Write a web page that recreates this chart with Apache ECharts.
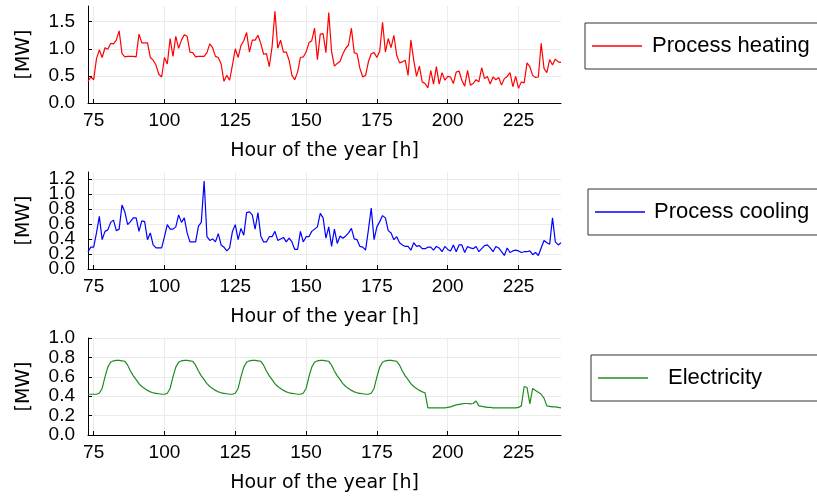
<!DOCTYPE html>
<html>
<head>
<meta charset="utf-8">
<script src="https://cdn.jsdelivr.net/npm/echarts@6/dist/echarts.min.js"></script>
<style>
html, body { margin: 0; padding: 0; background: #fff; }
#chart { width: 817px; height: 498px; }
</style>
</head>
<body>
<div id="chart"></div>
<script>
// hourly values, hour 73 .. 240
const firstHour = 73
const lastHour = 240

const heating = [
    0.40, 0.48, 0.43, 0.82, 0.98, 0.84, 1.02, 0.99, 1.10, 1.09,
    1.16, 1.33, 0.91, 0.85, 0.86, 0.86, 0.86, 0.85, 1.27, 1.11,
    1.11, 1.11, 0.84, 0.79, 0.70, 0.53, 0.48, 0.84, 0.72, 1.19,
    0.86, 1.23, 1.01, 1.16, 1.26, 1.23, 0.94, 0.93, 0.85, 0.86,
    0.86, 0.86, 0.93, 1.09, 1.02, 0.86, 0.84, 0.72, 0.40, 0.51,
    0.42, 0.70, 1.00, 0.84, 1.06, 1.15, 1.30, 0.94, 1.16, 1.16,
    1.25, 1.10, 0.90, 0.91, 0.67, 1.04, 1.69, 1.01, 1.16, 0.94,
    0.94, 0.79, 0.51, 0.43, 0.57, 0.84, 0.85, 0.94, 1.11, 1.15,
    1.38, 0.80, 1.27, 1.28, 0.93, 1.67, 0.95, 0.68, 0.73, 0.77,
    0.91, 1.01, 1.07, 1.38, 0.93, 0.91, 0.64, 0.48, 0.51, 0.76,
    0.91, 0.93, 0.84, 0.96, 1.49, 0.94, 1.19, 1.02, 1.25, 0.88,
    0.74, 0.76, 0.79, 0.51, 1.16, 0.79, 0.49, 0.68, 0.39, 0.36,
    0.28, 0.60, 0.35, 0.67, 0.35, 0.56, 0.42, 0.49, 0.48, 0.36,
    0.57, 0.59, 0.42, 0.31, 0.60, 0.33, 0.36, 0.43, 0.39, 0.65,
    0.45, 0.49, 0.35, 0.48, 0.43, 0.47, 0.33, 0.45, 0.49, 0.56,
    0.30, 0.49, 0.27, 0.39, 0.37, 0.74, 0.67, 0.51, 0.47, 0.48,
    1.10, 0.64, 0.56, 0.80, 0.70, 0.81, 0.76, 0.75
]

const cooling = [
    0.23, 0.29, 0.29, 0.48, 0.70, 0.39, 0.50, 0.52, 0.62, 0.65,
    0.51, 0.53, 0.85, 0.76, 0.59, 0.63, 0.68, 0.68, 0.50, 0.64,
    0.63, 0.39, 0.48, 0.32, 0.28, 0.28, 0.28, 0.43, 0.59, 0.53,
    0.53, 0.56, 0.72, 0.62, 0.68, 0.48, 0.36, 0.36, 0.36, 0.57,
    0.62, 1.17, 0.43, 0.38, 0.40, 0.36, 0.47, 0.32, 0.29, 0.24,
    0.28, 0.50, 0.59, 0.39, 0.54, 0.45, 0.75, 0.76, 0.72, 0.53,
    0.75, 0.44, 0.36, 0.36, 0.43, 0.43, 0.50, 0.38, 0.40, 0.42,
    0.36, 0.41, 0.36, 0.26, 0.26, 0.50, 0.36, 0.43, 0.43, 0.50,
    0.53, 0.56, 0.74, 0.68, 0.41, 0.56, 0.30, 0.53, 0.34, 0.44,
    0.41, 0.44, 0.48, 0.54, 0.40, 0.39, 0.30, 0.29, 0.25, 0.52,
    0.81, 0.39, 0.56, 0.63, 0.71, 0.68, 0.51, 0.48, 0.39, 0.43,
    0.35, 0.32, 0.30, 0.30, 0.25, 0.35, 0.30, 0.31, 0.27, 0.27,
    0.29, 0.29, 0.25, 0.30, 0.28, 0.23, 0.30, 0.26, 0.24, 0.32,
    0.23, 0.32, 0.32, 0.22, 0.30, 0.28, 0.27, 0.30, 0.23, 0.27,
    0.31, 0.32, 0.28, 0.23, 0.30, 0.28, 0.23, 0.18, 0.28, 0.22,
    0.24, 0.25, 0.24, 0.22, 0.23, 0.23, 0.24, 0.19, 0.22, 0.18,
    0.28, 0.38, 0.35, 0.33, 0.68, 0.36, 0.32, 0.35
]

const electricity = [
    0.42, 0.42, 0.42, 0.42, 0.43, 0.48, 0.60, 0.70, 0.75, 0.765,
    0.77, 0.77, 0.765, 0.76, 0.72, 0.66, 0.61, 0.57, 0.53, 0.50,
    0.48, 0.46, 0.445, 0.435, 0.43, 0.425, 0.42, 0.42, 0.43, 0.48,
    0.60, 0.70, 0.75, 0.765, 0.77, 0.77, 0.765, 0.76, 0.72, 0.66,
    0.61, 0.57, 0.53, 0.50, 0.48, 0.46, 0.445, 0.435, 0.43, 0.425,
    0.42, 0.42, 0.43, 0.48, 0.60, 0.70, 0.75, 0.765, 0.77, 0.77,
    0.765, 0.76, 0.72, 0.66, 0.61, 0.57, 0.53, 0.50, 0.48, 0.46,
    0.445, 0.435, 0.43, 0.425, 0.42, 0.42, 0.43, 0.48, 0.60, 0.70,
    0.75, 0.765, 0.77, 0.77, 0.765, 0.76, 0.72, 0.66, 0.61, 0.57,
    0.53, 0.50, 0.48, 0.46, 0.445, 0.435, 0.43, 0.425, 0.42, 0.42,
    0.43, 0.48, 0.60, 0.70, 0.75, 0.765, 0.77, 0.77, 0.765, 0.76,
    0.72, 0.66, 0.61, 0.57, 0.53, 0.50, 0.48, 0.46, 0.445, 0.435,
    0.28, 0.28, 0.28, 0.28, 0.28, 0.28, 0.28, 0.285, 0.29, 0.30,
    0.31, 0.315, 0.32, 0.325, 0.325, 0.32, 0.325, 0.35, 0.30, 0.295,
    0.29, 0.285, 0.285, 0.28, 0.28, 0.28, 0.28, 0.28, 0.28, 0.28,
    0.28, 0.28, 0.285, 0.30, 0.50, 0.49, 0.32, 0.48, 0.46, 0.44,
    0.42, 0.38, 0.30, 0.295, 0.29, 0.29, 0.285, 0.28
]

const xTicks = [75, 100, 125, 150, 175, 200, 225]
const heatTicks = [0, 0.5, 1.0, 1.5]
const coolTicks = [0, 0.2, 0.4, 0.6, 0.8, 1.0, 1.2]
const elecTicks = [0, 0.2, 0.4, 0.6, 0.8, 1.0]
// cooling labels are crowded: drawn on two overlaid axes so none is dropped
const coolLabelsA = [0, 0.4, 0.8, 1.2]
const coolLabelsB = [0.2, 0.6, 1.0]

const hours = []
for (let h = firstHour; h <= lastHour; h++) hours.push(h)

const tickFont = { fontFamily: 'Liberation Sans', fontSize: 19, color: '#000' }
const nameFont = { fontFamily: 'DejaVu Sans', fontSize: 19, color: '#000' }
const gridColor = '#ebebeb'

function xAxisFor(i) {
    return {
        type: 'value',
        gridIndex: i,
        min: firstHour,
        max: lastHour,
        name: 'Hour of the year [h]',
        nameLocation: 'middle',
        nameGap: 39,
        nameTextStyle: nameFont,
        axisLine: { lineStyle: { color: '#000', width: 1 } },
        axisTick: { inside: true, length: 4, customValues: xTicks, lineStyle: { color: '#000' } },
        axisLabel: Object.assign({ customValues: xTicks, margin: 8 }, tickFont),
        splitLine: { show: true, lineStyle: { color: gridColor } }
    }
}

function yAxisFor(i, max, ticks, labels) {
    return {
        type: 'value',
        gridIndex: i,
        position: 'left',
        min: 0,
        max: max,
        name: '[MW]',
        nameLocation: 'middle',
        nameGap: 54,
        nameRotate: 90,
        nameTextStyle: nameFont,
        axisLine: { show: true, lineStyle: { color: '#000', width: 1 } },
        axisTick: { show: true, inside: true, length: 4, customValues: ticks, lineStyle: { color: '#000' } },
        axisLabel: Object.assign({
            customValues: labels || ticks,
            margin: 13,
            hideOverlap: false,
            showMinLabel: true,
            showMaxLabel: true,
            formatter: v => v.toFixed(1)
        }, tickFont),
        splitLine: { show: true, lineStyle: { color: gridColor } }
    }
}

function labelOnlyAxis(i, max, labels) {
    return {
        type: 'value',
        gridIndex: i,
        position: 'left',
        min: 0,
        max: max,
        axisLine: { show: false },
        axisTick: { show: false },
        splitLine: { show: false },
        axisLabel: Object.assign({
            customValues: labels,
            margin: 13,
            hideOverlap: false,
            showMinLabel: true,
            showMaxLabel: true,
            formatter: v => v.toFixed(1)
        }, tickFont)
    }
}

function legendFor(name, left, top, textPad) {
    return {
        data: [name],
        left: left,
        top: top,
        orient: 'horizontal',
        borderColor: '#333',
        borderWidth: 1,
        padding: [12, 60, 12, 7],
        icon: 'rect',
        itemWidth: 50,
        itemHeight: 1.6,
        textStyle: {
            fontFamily: 'Liberation Sans',
            fontSize: 22,
            lineHeight: 22,
            color: '#000',
            padding: [0, 0, 0, textPad]
        }
    }
}

function lineSeries(name, i, values, color) {
    return {
        name: name,
        type: 'line',
        xAxisIndex: i,
        yAxisIndex: i,
        symbol: 'none',
        color: color,
        lineStyle: { color: color, width: 1.2 },
        data: hours.map((h, k) => [h, values[k]])
    }
}

const chart = echarts.init(document.getElementById('chart'))
chart.setOption({
    animation: false,
    backgroundColor: '#fff',
    grid: [
        { left: 88, top: 6, width: 473, height: 97 },
        { left: 88, top: 172, width: 473, height: 97 },
        { left: 88, top: 338, width: 473, height: 97 }
    ],
    xAxis: [xAxisFor(0), xAxisFor(1), xAxisFor(2)],
    yAxis: [
        yAxisFor(0, 1.79, heatTicks),
        yAxisFor(1, 1.29, coolTicks, coolLabelsA),
        yAxisFor(2, 1.0, elecTicks),
        labelOnlyAxis(1, 1.29, coolLabelsB)
    ],
    legend: [
        legendFor('Process heating', 585, 23, 5),
        legendFor('Process cooling', 588, 189, 4),
        legendFor('Electricity', 591, 355, 15)
    ],
    series: [
        lineSeries('Process heating', 0, heating, '#ff0000'),
        lineSeries('Process cooling', 1, cooling, '#0000ff'),
        lineSeries('Electricity', 2, electricity, '#1e8c1e')
    ]
})
</script>
</body>
</html>
